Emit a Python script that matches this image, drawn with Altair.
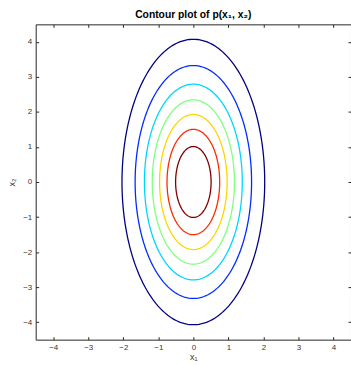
import numpy as np
import pandas as pd
import altair as alt

# Contour levels of p(x1, x2) and the Gaussian's standard deviations
levels = [0.01, 0.02, 0.03, 0.04, 0.05, 0.06, 0.07]
sigma = [1.0, 2.0]
level_colors = ["#000080", "#002BFF", "#00D5FF", "#80FF80", "#FFD500", "#FF2B00", "#800000"]
tick_values = [-4, -3, -2, -1, 0, 1, 2, 3, 4]
domain = [-4.5, 4.5]

rows = []
t = np.linspace(0, 2 * np.pi, 241)
peak = 1.0 / (2 * np.pi * sigma[0] * sigma[1])
for lv in levels:
    r = np.sqrt(-2.0 * np.log(lv / peak))
    for i, a in enumerate(t):
        rows.append({"level": lv, "i": i,
                     "x1": sigma[0] * r * np.cos(a),
                     "x2": sigma[1] * r * np.sin(a)})
df = pd.DataFrame(rows)

FONT = "Liberation Sans"

xs = alt.Scale(domain=domain, nice=False, zero=False)
ys = alt.Scale(domain=domain, nice=False, zero=False)

lines = alt.Chart(df).mark_line(strokeWidth=1.3, clip=True).encode(
    x=alt.X("x1:Q", scale=xs, axis=alt.Axis(
        orient="bottom", values=tick_values, offset=-3, tickSize=3, domain=False,
        grid=False, labelPadding=4, labelFontSize=8, labelColor="#333333",
        labelFont=FONT, tickColor="#262626", labelFlush=False,
        title="x₁", titleFont=FONT, titleFontSize=9, titleFontWeight="normal",
        titleColor="#333333", titlePadding=1)),
    y=alt.Y("x2:Q", scale=ys, axis=alt.Axis(
        orient="left", values=tick_values, offset=-3, tickSize=3, domain=False,
        grid=False, labelPadding=4, labelFontSize=8, labelColor="#333333",
        labelFont=FONT, tickColor="#262626", labelFlush=False,
        title="x₂", titleFont=FONT, titleFontSize=9, titleFontWeight="normal",
        titleColor="#333333", titlePadding=6)),
    color=alt.Color("level:O", scale=alt.Scale(domain=levels, range=level_colors), legend=None),
    detail="level:O",
    order="i:Q",
)

frame_ticks = alt.Chart(df).mark_point(opacity=0).encode(
    x=alt.X("x1:Q", scale=xs, axis=alt.Axis(
        orient="top", values=tick_values, offset=-3, tickSize=3, domain=False,
        grid=False, labels=False, tickColor="#262626", title=None)),
    y=alt.Y("x2:Q", scale=ys, axis=alt.Axis(
        orient="right", values=tick_values, offset=-3, tickSize=3, domain=False,
        grid=False, labels=False, tickColor="#262626", title=None)),
)

chart = alt.layer(lines, frame_ticks).resolve_axis(
    x="independent", y="independent"
).properties(
    width=318, height=318,
    padding={"left": 36, "top": 23, "right": 0, "bottom": 24},
    autosize="none",
    background="white",
    title=alt.TitleParams(text="Contour plot of p(x₁, x₂)", font=FONT, fontSize=10.4,
                          fontWeight="bold", color="#000000", anchor="middle", offset=4),
).configure_view(stroke="#262626", strokeWidth=1)

chart.save("out.html", embed_options={"renderer": "svg", "actions": False})
